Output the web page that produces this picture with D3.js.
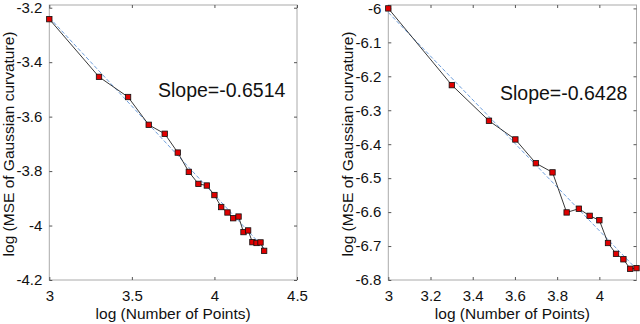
<!DOCTYPE html>
<html>
<head>
<meta charset="utf-8">
<script src="https://cdn.jsdelivr.net/npm/d3@7"></script>
<style>
  body { margin: 0; background: #fff; }
  svg { display: block; font-family: "Liberation Sans", Arial, Helvetica, sans-serif; }
</style>
</head>
<body>
<div id="chart"></div>
<script>
// left panel data
const leftX = [3.0, 3.301, 3.477, 3.602, 3.699, 3.778, 3.845, 3.903, 3.954, 4.0,
               4.041, 4.079, 4.114, 4.146, 4.176, 4.204, 4.230, 4.255, 4.279, 4.301];
const leftY = [-3.242, -3.454, -3.528, -3.630, -3.663, -3.732, -3.803, -3.847, -3.853, -3.888,
               -3.932, -3.952, -3.973, -3.967, -4.024, -4.018, -4.061, -4.064, -4.062, -4.093];
const leftSlope = -0.6514;
const leftFitAt3 = -3.236;
const leftXTicks = [3, 3.5, 4, 4.5];
const leftYTicks = [-4.2, -4, -3.8, -3.6, -3.4, -3.2];

// right panel data
const rightX = [3.0, 3.301, 3.477, 3.602, 3.699, 3.778, 3.845, 3.903, 3.954, 4.0,
                4.041, 4.079, 4.114, 4.146, 4.176];
const rightY = [-6.000, -6.226, -6.331, -6.386, -6.456, -6.483, -6.601, -6.590, -6.611, -6.624,
                -6.691, -6.723, -6.739, -6.767, -6.765];
const rightSlope = -0.6428;
const rightFitAt3 = -6.012;
const rightXTicks = [3, 3.2, 3.4, 3.6, 3.8, 4];
const rightYTicks = [-6.8, -6.7, -6.6, -6.5, -6.4, -6.3, -6.2, -6.1, -6];

const xLabel = "log (Number of Points)";
const yLabel = "log (MSE of Gaussian curvature)";

const width = 640, height = 324;

const svg = d3.select("#chart").append("svg")
  .attr("width", width)
  .attr("height", height);

function panel(opts) {
  const x = d3.scaleLinear().domain(opts.xDomain).range(opts.xRange);
  const y = d3.scaleLinear().domain(opts.yDomain).range([280, 5]);
  const g = svg.append("g");

  // box
  g.append("rect")
    .attr("x", opts.xRange[0]).attr("y", 5)
    .attr("width", opts.xRange[1] - opts.xRange[0])
    .attr("height", 275)
    .attr("fill", "none")
    .attr("stroke", "#aaa")
    .attr("stroke-width", 1);

  // axes, ticks pointing inward
  g.append("g")
    .attr("transform", `translate(0,280)`)
    .call(d3.axisBottom(x).tickValues(opts.xTicks).tickSize(-3).tickPadding(10).tickFormat(d => String(d)));
  g.append("g")
    .attr("transform", `translate(${opts.xRange[0]},0)`)
    .call(d3.axisLeft(y).tickValues(opts.yTicks).tickSize(-3).tickPadding(7).tickFormat(d => String(d)));
  g.append("g")
    .attr("transform", `translate(0,5)`)
    .call(d3.axisTop(x).tickValues(opts.xTicks).tickSize(-3).tickFormat(""));
  g.append("g")
    .attr("transform", `translate(${opts.xRange[1]},0)`)
    .call(d3.axisRight(y).tickValues(opts.yTicks).tickSize(-3).tickFormat(""));

  g.selectAll(".domain").remove();
  g.selectAll(".tick line").attr("stroke", "#555");
  g.selectAll(".tick text")
    .attr("fill", "#111")
    .attr("font-size", "15px")
    .attr("font-family", "Liberation Sans, Arial, sans-serif");

  // fitted line
  const x0 = opts.xs[0], x1 = opts.xs[opts.xs.length - 1];
  g.append("line")
    .attr("x1", x(x0)).attr("y1", y(opts.fitAt3 + opts.slope * (x0 - 3)))
    .attr("x2", x(x1)).attr("y2", y(opts.fitAt3 + opts.slope * (x1 - 3)))
    .attr("stroke", "#6f9fdc")
    .attr("stroke-width", 1)
    .attr("stroke-dasharray", "4,2");

  const pts = opts.xs.map((d, i) => [d, opts.ys[i]]);

  g.append("path")
    .datum(pts)
    .attr("fill", "none")
    .attr("stroke", "#222")
    .attr("stroke-width", 0.9)
    .attr("d", d3.line().x(d => x(d[0])).y(d => y(d[1])));

  g.selectAll(".mark")
    .data(pts)
    .join("rect")
    .attr("class", "mark")
    .attr("x", d => x(d[0]) - 2.7)
    .attr("y", d => y(d[1]) - 2.7)
    .attr("width", 5.4)
    .attr("height", 5.4)
    .attr("fill", "#e00000")
    .attr("stroke", "#111")
    .attr("stroke-width", 0.8);

  // slope annotation
  g.append("text")
    .attr("x", opts.slopePos[0]).attr("y", opts.slopePos[1])
    .attr("font-size", "19.5px")
    .attr("fill", "#111")
    .text(opts.slopeText);

  // axis labels
  g.append("text")
    .attr("x", (opts.xRange[0] + opts.xRange[1]) / 2)
    .attr("y", 319)
    .attr("text-anchor", "middle")
    .attr("font-size", "15.5px")
    .attr("fill", "#111")
    .text(xLabel);

  g.append("text")
    .attr("transform", `translate(${opts.yLabelX},144) rotate(-90)`)
    .attr("text-anchor", "middle")
    .attr("font-size", "15.5px")
    .attr("fill", "#111")
    .text(yLabel);
}

panel({
  xDomain: [3, 4.5], xRange: [49.3, 297],
  yDomain: [-4.2, -3.19],
  xTicks: leftXTicks, yTicks: leftYTicks,
  xs: leftX, ys: leftY,
  slope: leftSlope, fitAt3: leftFitAt3,
  slopeText: "Slope=-0.6514", slopePos: [158, 97],
  yLabelX: 13.5
});

panel({
  xDomain: [3, 4.176], xRange: [388.3, 636.5],
  yDomain: [-6.8, -5.99],
  xTicks: rightXTicks, yTicks: rightYTicks,
  xs: rightX, ys: rightY,
  slope: rightSlope, fitAt3: rightFitAt3,
  slopeText: "Slope=-0.6428", slopePos: [500, 100],
  yLabelX: 352.5
});
</script>
</body>
</html>
